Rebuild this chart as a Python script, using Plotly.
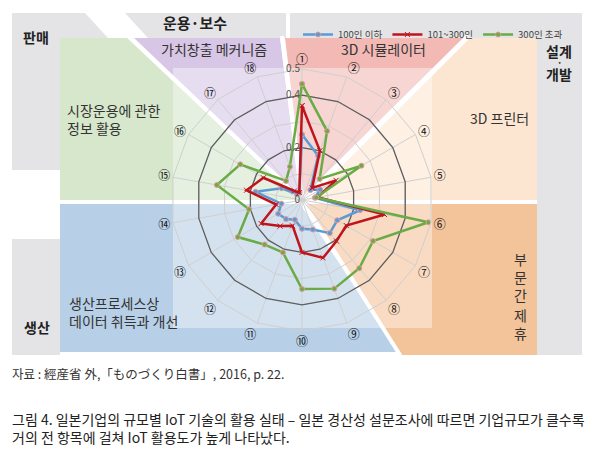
import plotly.graph_objects as go

W, H = 600, 461
PAD = 8  # the page adds an 8px body margin around the plot

# 18 survey items, clockwise from the top
items = ['①', '②', '③', '④', '⑤', '⑥', '⑦', '⑧', '⑨',
         '⑩', '⑪', '⑫', '⑬', '⑭', '⑮', '⑯', '⑰', '⑱']

small = [0.25, 0.18, 0.05, 0.08, 0.05, 0.225, 0.155, 0.165, 0.12,
         0.11, 0.08, 0.095, 0.105, 0.08, 0.18, 0.09, 0.03, 0.03]
mid = [0.36, 0.2, 0.06, 0.15, 0.06, 0.32, 0.195, 0.205, 0.235,
       0.2, 0.105, 0.13, 0.18, 0.1, 0.215, 0.17, 0.045, 0.03]
large = [0.443, 0.28, 0.105, 0.262, 0.055, 0.49, 0.313, 0.34, 0.36,
         0.34, 0.213, 0.222, 0.283, 0.205, 0.33, 0.272, 0.095, 0.135]

series_names = ['100인 이하', '101~300인', '300인 초과']
series_colors = ['#5b9bd5', '#c0141c', '#6aab45']

radial_ticks = [0, 0.1, 0.2, 0.3, 0.4, 0.5]
radial_text = ['0', '', '0.2', '', '0.4', '0.5']

FONT = 'Noto Sans CJK KR'


# helpers: pixel positions of the picture -> paper coords
def fx(x):
    return (x - PAD) / W


def fy(y):
    return 1 - (y - PAD) / H


def poly(points):
    return 'M' + ' L'.join(f'{fx(x):.4f},{fy(y):.4f}' for x, y in points) + ' Z'


def area(points, color, opacity=1):
    return dict(type='path', path=poly(points), xref='paper', yref='paper',
                fillcolor=color, opacity=opacity, line=dict(width=0), layer='below')


def rect(x0, y0, x1, y1, color, opacity=1):
    return area([(x0, y0), (x1, y0), (x1, y1), (x0, y1)], color, opacity)


def gap(x0, y0, x1, y1):
    return dict(type='line', xref='paper', yref='paper',
                x0=fx(x0), y0=fy(y0), x1=fx(x1), y1=fy(y1),
                line=dict(color='white', width=4), layer='below')


grey = '#e4e4e6'
shapes = [
    area([(12, 13), (85, 13), (108, 38), (60, 38), (60, 170), (12, 170)], grey),
    area([(125, 13), (286, 13), (286, 38), (148, 38)], grey),
    area([(290, 13), (582, 13), (582, 355), (537, 355), (537, 38), (290, 38)], grey),
    rect(12, 239, 60, 355, grey),
    area([(60, 38), (128, 38), (300, 200), (60, 200)], '#d6e7cb'),
    area([(134, 38), (280, 38), (300, 196)], '#d8c6e6'),
    area([(285, 38), (464, 38), (304, 196)], '#f2b9b5'),
    area([(470, 38), (537, 38), (537, 200), (308, 200)], '#fde6d1'),
    area([(306, 204), (537, 204), (537, 355), (402, 355)], '#f3c49a'),
    area([(60, 204), (300, 204), (398, 352), (60, 352)], '#b7cfe7'),
    rect(173, 68, 432, 328, 'white', 0.4),
    gap(302, 200, 128, 36),
    gap(302, 200, 282, 36),
    gap(302, 200, 468, 36),
    gap(60, 202, 537, 202),
    gap(302, 200, 400, 355),
]

fig = go.Figure()

# darker rings at 0.2 and 0.4
for level in [0.2, 0.4]:
    fig.add_trace(go.Scatterpolar(
        r=[level] * (len(items) + 1), theta=items + items[:1], mode='lines',
        line=dict(color='#5e5e5e', width=1.3), showlegend=False, hoverinfo='skip'))

markers = ['circle', 'x-thin-open', 'circle']
for name, vals, color, sym in zip(series_names, [small, mid, large], series_colors, markers):
    fig.add_trace(go.Scatterpolar(
        r=vals + vals[:1], theta=items + items[:1], mode='lines+markers', name=name,
        line=dict(color=color, width=2.5),
        marker=dict(size=5, symbol=sym, color=color, line=dict(color='#e89a9a', width=1))))

notes = [
    ('판매', 36, 37, 14, True, 'center'),
    ('운용·보수', 195, 22, 15, True, 'center'),
    ('설계', 559, 51, 14, True, 'center'),
    ('·', 559, 62, 9, True, 'center'),
    ('개발', 559, 74, 14, True, 'center'),
    ('생산', 37, 327, 14, True, 'center'),
    ('가치창출 메커니즘', 214, 49, 14, False, 'center'),
    ('3D 시뮬레이터', 383, 49, 14, False, 'center'),
    ('3D 프린터', 500, 118, 14, False, 'center'),
    ('시장운용에 관한<br>정보 활용', 65, 119, 14, False, 'left'),
    ('생산프로세스상<br>데이터 취득과 개선', 67, 312, 14, False, 'left'),
    ('부<br>문<br>간', 520, 277, 14, False, 'center'),
    ('제<br>휴', 520, 324, 14, False, 'center'),
]
annotations = []
for text, x, y, size, bold, align in notes:
    annotations.append(dict(
        text=f'<b>{text}</b>' if bold else text, x=fx(x), y=fy(y),
        xref='paper', yref='paper', showarrow=False, align=align,
        xanchor='left' if align == 'left' else 'center', yanchor='middle',
        font=dict(family=FONT, size=size, color='#222' if bold else '#333')))

annotations.append(dict(
    text='자료 : 經産省 外,「ものづくり白書」, 2016, p. 22.', x=fx(10), y=fy(373),
    xref='paper', yref='paper', showarrow=False, xanchor='left', yanchor='middle',
    font=dict(family=FONT, size=12.5, color='#333')))
annotations.append(dict(
    text='그림 4. 일본기업의 규모별 IoT 기술의 활용 실태 – 일본 경산성 설문조사에 따르면 기업규모가 클수록'
         '<br>거의 전 항목에 걸쳐 IoT 활용도가 높게 나타났다.',
    x=fx(10), y=fy(428), xref='paper', yref='paper', showarrow=False,
    xanchor='left', yanchor='middle', align='left',
    font=dict(family=FONT, size=14, color='#222')))

fig.update_layout(
    width=W, height=H,
    margin=dict(l=0, r=0, t=0, b=0),
    paper_bgcolor='white',
    font=dict(family=FONT),
    shapes=shapes,
    annotations=annotations,
    showlegend=True,
    legend=dict(orientation='h', x=fx(298), y=fy(20), xanchor='left', yanchor='top',
                bgcolor='rgba(0,0,0,0)', font=dict(size=9.5, color='#444'),
                itemwidth=30, tracegroupgap=0),
    polar=dict(
        domain=dict(x=[fx(171), fx(433)], y=[fy(331), fy(69)]),
        bgcolor='rgba(0,0,0,0)',
        gridshape='linear',
        radialaxis=dict(range=[0, 0.5], tickvals=radial_ticks, ticktext=radial_text,
                        angle=90, tickangle=90, side='counterclockwise', showline=False,
                        ticks='', gridcolor='#cfcfcf', gridwidth=1,
                        tickfont=dict(size=10, color='#555')),
        angularaxis=dict(direction='clockwise', rotation=90, gridcolor='#cfcfcf',
                         linecolor='#cfcfcf', ticks='', showline=True,
                         tickfont=dict(size=12, color='#111')),
    ),
)

fig.write_html('out.html')
